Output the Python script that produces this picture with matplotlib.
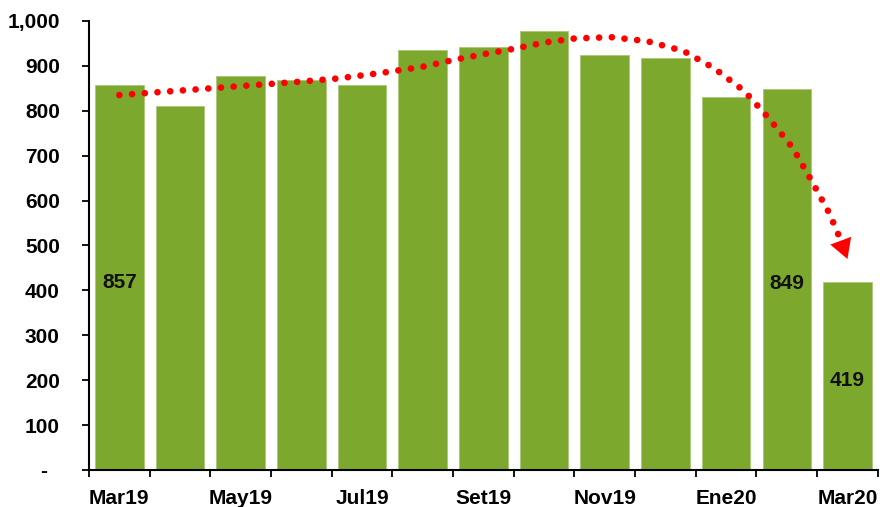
import matplotlib
matplotlib.use("Agg")
import matplotlib.pyplot as plt
import numpy as np

# monthly values
months = ["Mar19", "Abr19", "May19", "Jun19", "Jul19", "Ago19", "Set19",
          "Oct19", "Nov19", "Dic19", "Ene20", "Feb20", "Mar20"]
values = [857, 811, 877, 868, 858, 936, 943, 978, 924, 917, 830, 849, 419]
labelled = ["Mar19", "Feb20", "Mar20"]

# hand-drawn trend curve (position on category axis, value)
trend_x = [0.0, 1.0, 2.0, 2.9, 3.6, 4.3, 5.0, 5.5, 6.0, 6.5, 7.0, 7.5, 8.1,
           8.7, 9.3, 9.8, 10.3, 10.7, 11.1, 11.4, 11.7, 11.86]
trend_y = [835, 845, 855, 864, 872, 884, 898, 913, 926, 938, 952, 961, 964,
           955, 933, 895, 844, 784, 717, 646, 572, 521]
arrow_tip = (12.0, 470)

plt.rcParams['font.family'] = ['Liberation Sans', 'DejaVu Sans']

fig = plt.figure(figsize=(8.84, 5.07), dpi=100)
ax = fig.add_axes([0.1007, 0.073, 0.8923, 0.8856])

x = np.arange(len(months))
ax.bar(x, values, width=0.8, color='#7DA82E', edgecolor='#A9C878',
       linewidth=0.6, zorder=2)

for i, (m, v) in enumerate(zip(months, values)):
    if m in labelled:
        ax.text(i, v / 2 - 10, f"{v:,}", ha='center', va='center',
                fontsize=15, fontweight='bold', color='#111111', zorder=4)

# dotted trend with arrow head
ax.plot(trend_x, trend_y, color='#FF0000', linewidth=4.8,
        linestyle=(0, (0.01, 1.9)), dash_capstyle='round', zorder=3)
ax.annotate("", xy=arrow_tip, xytext=(trend_x[-1], trend_y[-1]),
            arrowprops=dict(arrowstyle='-|>,head_length=0.7,head_width=0.4',
                            color='#FF0000', lw=0, mutation_scale=20,
                            shrinkA=0, shrinkB=0),
            zorder=3)

ax.set_xlim(-0.5, len(months) - 0.5)
ax.set_ylim(0, 1000)

yt = np.arange(0, 1001, 100)
ax.set_yticks(yt)
ax.set_yticklabels(["-  " if t == 0 else f"{t:,}" for t in yt],
                   fontsize=15, fontweight='bold')
ax.tick_params(axis='y', direction='out', length=5, width=1.3, pad=16)

# ticks on category boundaries, labels on every other category
ax.set_xticks(np.arange(-0.5, len(months), 1.0))
ax.set_xticklabels([])
ax.set_xticks(x[::2], minor=True)
ax.set_xticklabels(months[::2], minor=True, fontsize=15, fontweight='bold')
ax.tick_params(axis='x', which='major', direction='out', length=5, width=1.3)
ax.tick_params(axis='x', which='minor', length=0, pad=14)

for side in ['top', 'right']:
    ax.spines[side].set_visible(False)
for side in ['left', 'bottom']:
    ax.spines[side].set_linewidth(1.5)
    ax.spines[side].set_color('black')

fig.savefig("out.png", dpi=100)
